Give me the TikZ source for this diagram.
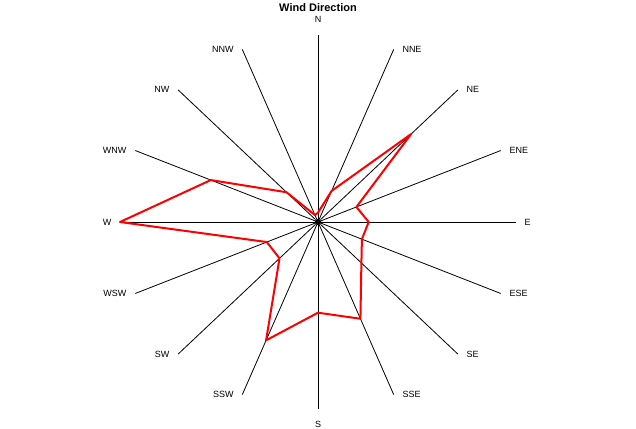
\documentclass[tikz,border=0pt]{standalone}
\usepackage{fontspec}
\setmainfont{Liberation Sans}
\usepackage{tikz}
\tikzset{spoke/.style = {line width = 0.8pt},
	tip/.style = {inner sep = 0pt, minimum size = 0pt},
	lbl/.style = {font = \fontsize{9}{10}\selectfont, label distance = 5pt},
	wind/.style = {red, line width = 2pt, line join = round}}

\begin{document}
\begin{tikzpicture}[x = 198pt, y = 187pt]
		\useasboundingbox (-318pt, -206pt) rectangle (318pt, 222pt);
		\node (title) [font = \bfseries\fontsize{11}{13}\selectfont] at (0pt, 214.5pt) {Wind Direction};
		% compass points
		\foreach \a/\n/\s in {67.5/NNE/right, 45/NE/right, 22.5/ENE/right,
			0/E/right, -22.5/ESE/right, -45/SE/right, -67.5/SSE/right,
			-112.5/SSW/left, -135/SW/left, -157.5/WSW/left, 180/W/left,
			157.5/WNW/left, 135/NW/left, 112.5/NNW/left}
		\node (\n) [tip, label = {[lbl]\s:\n}] at (\a:1) {};
		\node (N) [tip, label = {[lbl, label distance = 9pt]above:N}] at (90:1) {};
		\node (S) [tip, label = {[lbl, label distance = 8pt]below:S}] at (-90:1) {};
		\node (c) [circle, fill, inner sep = 0pt, minimum size = 6.5pt] at (0,0) {};
		\foreach \n in {N, NNE, NE, ENE, E, ESE, SE, SSE, S, SSW, SW, WSW, W, WNW, NW, NNW}
		\draw [spoke] (c) -- (\n);
		% wind values
		\foreach \a/\r/\n in {90/0.05/N, 67.5/0.18/NNE, 45/0.665/NE, 22.5/0.21/ENE,
			0/0.256/E, -22.5/0.24/ESE, -45/0.31/SE, -67.5/0.56/SSE, -90/0.485/S,
			-112.5/0.685/SSW, -135/0.275/SW, -157.5/0.28/WSW, 180/1/W,
			157.5/0.586/WNW, 135/0.225/NW, 112.5/0.04/NNW}
		\coordinate (v\n) at (\a:\r);
		\draw [wind] (vN) -- (vNNE) -- (vNE) -- (vENE) -- (vE) -- (vESE) -- (vSE) -- (vSSE)
			-- (vS) -- (vSSW) -- (vSW) -- (vWSW) -- (vW) -- (vWNW) -- (vNW) -- (vNNW) -- cycle;
		\end{tikzpicture}
\end{document}
